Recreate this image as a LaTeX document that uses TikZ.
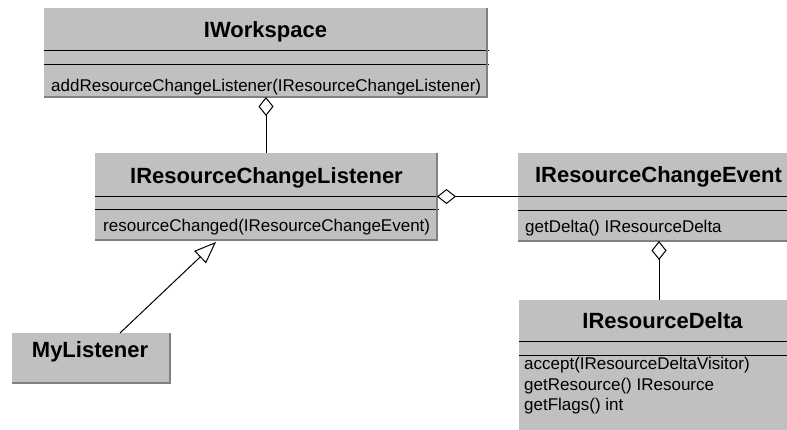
\documentclass[tikz,border=0pt]{standalone}
\usepackage{fontspec}
\setmainfont{Liberation Sans}
\usetikzlibrary{arrows.meta,calc}
\definecolor{boxgrey}{HTML}{C0C0C0}
\definecolor{shade}{HTML}{808080}
\tikzset{
 classbox/.style={fill=boxgrey, draw=none, inner sep=0pt, outer sep=0pt, anchor=north west, rectangle},
 sepline/.style={draw=black, line width=1pt},
 shadowline/.style={draw=shade, line width=1.6pt},
 ctitle/.style={font=\fontsize{22}{26}\selectfont\bfseries, inner sep=0pt, anchor=base},
 meth/.style={font=\fontsize{17}{20}\selectfont, inner sep=0pt, anchor=base west},
 conn/.style={draw=black, line width=1pt},
 aggr/.style={conn, -{Diamond[open, length=19pt, width=15pt]}},
 gen/.style={conn, -{Triangle[open, length=22pt, width=17pt]}},
}
\begin{document}
\begin{tikzpicture}[x=1pt,y=-1pt]
\fill[white] (0,0) rectangle (787,429);
\useasboundingbox (0,0) rectangle (787,429);

% IWorkspace
\node[classbox, minimum width=443pt, minimum height=89pt] (ws) at (44,8) {};
\draw[sepline] (ws.west |- 0,50) -- (489,50);
\draw[sepline] (ws.west |- 0,64) -- (489,64);
\draw[shadowline] (ws.north east) -- (ws.south east) -- (ws.south west);
\node[ctitle] (wsT) at (265.5,37) {IWorkspace};
\node[meth] (wsM) at (51,91) {addResourceChangeListener(IResourceChangeListener)};

% IResourceChangeListener
\node[classbox, minimum width=342pt, minimum height=87pt] (lst) at (95,153) {};
\draw[sepline] (lst.west |- 0,196) -- (439,196);
\draw[sepline] (lst.west |- 0,209) -- (439,209);
\draw[shadowline] (lst.north east) -- (lst.south east) -- (lst.south west);
\node[ctitle] (lstT) at (266.5,183) {IResourceChangeListener};
\node[meth] (lstM) at (103,231) {resourceChanged(IResourceChangeEvent)};

% IResourceChangeEvent
\node[classbox, minimum width=281pt, minimum height=88pt] (evt) at (518,153) {};
\draw[sepline] (evt.west |- 0,196) -- (evt.east |- 0,196);
\draw[sepline] (evt.west |- 0,210) -- (evt.east |- 0,210);
\draw[shadowline] (evt.south east) -- (evt.south west);
\node[ctitle] (evtT) at (658.5,182) {IResourceChangeEvent};
\node[meth] (evtM) at (525,232) {getDelta() IResourceDelta};

% IResourceDelta
\node[classbox, minimum width=280pt, minimum height=140pt] (dlt) at (519,300) {};
\draw[sepline] (dlt.west |- 0,341) -- (dlt.east |- 0,341);
\draw[sepline] (dlt.west |- 0,355) -- (dlt.east |- 0,355);
\node[ctitle] (dltT) at (662.5,328) {IResourceDelta};
\node[meth] (dltM1) at (524,369) {accept(IResourceDeltaVisitor)};
\node[meth] (dltM2) at (524,390) {getResource() IResource};
\node[meth] (dltM3) at (524,410) {getFlags() int};

% MyListener
\node[classbox, minimum width=158pt, minimum height=50pt] (my) at (12,333) {};
\draw[shadowline] (my.north east) -- (my.south east) -- (my.south west);
\node[ctitle] (myT) at (90,357) {MyListener};

% connectors
\draw[aggr] (lst.north) -- (lst.north |- ws.south);
\draw[aggr] (evt.west |- lst.east) -- (lst.east);
\draw[aggr] (dlt.north) -- (dlt.north |- evt.south);
\coordinate (gstart) at ($(my.north west)+(108,0)$);
\coordinate (gtip) at ($(lst.south west)+(121,2)$);
\draw[gen] (gstart) -- (gtip);
\end{tikzpicture}
\end{document}
